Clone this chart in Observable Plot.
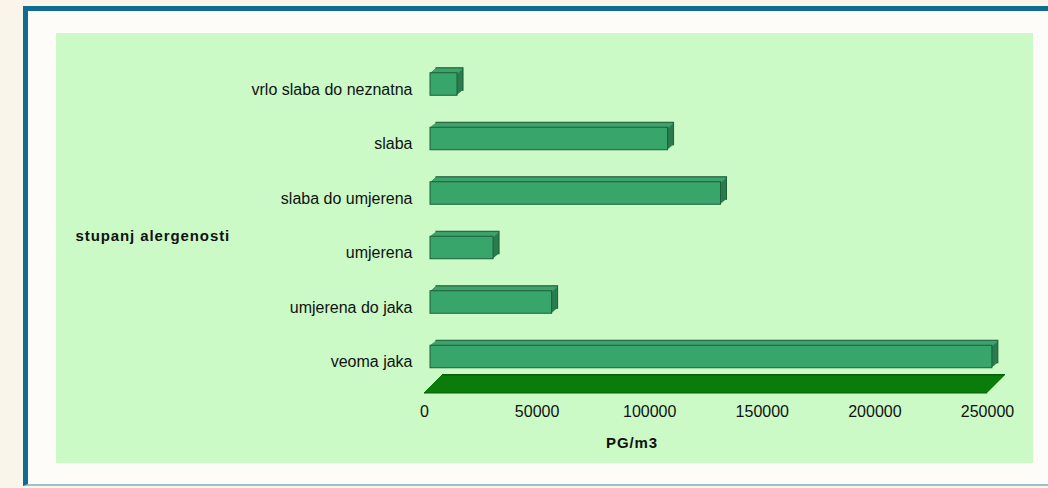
<!DOCTYPE html>
<html>
<head>
<meta charset="utf-8">
<script src="https://cdn.jsdelivr.net/npm/d3@7"></script>
<script src="https://cdn.jsdelivr.net/npm/@observablehq/plot@0.6"></script>
<style>
  html, body { margin: 0; padding: 0; }
  body { width: 1048px; height: 488px; background: #faf5ea; position: relative; overflow: hidden;
         font-family: "Liberation Sans", Arial, sans-serif; }
  #frame { position: absolute; left: 23px; top: 6px; width: 1100px; height: 480px;
           background: #fefcf9; border-left: 5px solid #0f6b90; border-top: 5px solid #0f6b90;
           border-bottom: 2px solid #9dc0cf; box-sizing: border-box; }
  #chart { position: absolute; left: 56px; top: 33px; }
</style>
</head>
<body>
<div id="frame"></div>
<div id="chart"></div>
<script>
const categories = ["vrlo slaba do neznatna", "slaba", "slaba do umjerena", "umjerena", "umjerena do jaka", "veoma jaka"];
const values = [12000, 105500, 129000, 28000, 54000, 249500];
const xTicks = [0, 50000, 100000, 150000, 200000, 250000];
const xTitle = "PG/m3";
const yTitle = "stupanj alergenosti";

const rows = categories.map((c, i) => ({cat: c, value: values[i], i}));

const FRONT = "#38a56b", TOP = "#3fa36b", SIDE = "#2b7c4e", EDGE = "#1d5e3a";
const FLOOR = "#0a7d0a", FLOOR_EDGE = "#065f06";
const FONT = "Liberation Sans, Arial, sans-serif";
const shiftX = 6, depthX = 6, depthY = 5, steps = 6;
const inset = 16;

const marks = [];

// floor (a slanted slab under the bars)
for (let j = 0; j <= 18; j++) {
  marks.push(Plot.ruleY([categories.length], {
    y: d => d, x1: () => 0, x2: () => xTicks[xTicks.length - 1],
    dx: j, dy: 8.5 - j,
    stroke: (j === 0 || j === 18) ? FLOOR_EDGE : FLOOR, strokeWidth: 1.6
  }));
}

// bars: side extrusion
for (let k = steps; k >= 1; k--) {
  marks.push(Plot.rect(rows, {
    x1: () => 0, x2: "value", y1: "i", y2: d => d.i + 1,
    insetTop: inset, insetBottom: inset,
    dx: shiftX + k * depthX / steps, dy: -k * depthY / steps,
    fill: SIDE,
    stroke: k === steps ? EDGE : "none", strokeWidth: 1
  }));
}
// bars: top face
for (let k = steps - 1; k >= 1; k--) {
  marks.push(Plot.rect(rows, {
    x1: () => 0, x2: "value", y1: "i", y2: d => d.i + 1,
    insetTop: inset, insetBottom: 54.5 - inset - 1.5,
    dx: shiftX + k * depthX / steps, dy: -k * depthY / steps,
    fill: TOP
  }));
}
// bars: front face
marks.push(Plot.rect(rows, {
  x1: () => 0, x2: "value", y1: "i", y2: d => d.i + 1,
  insetTop: inset, insetBottom: inset, dx: shiftX,
  fill: FRONT, stroke: EDGE, strokeWidth: 1
}));

// category labels
marks.push(Plot.text(rows, {
  frameAnchor: "left", y: d => d.i + 0.5, text: "cat",
  textAnchor: "end", dx: -12, dy: 5, fontSize: 16, fill: "#111"
}));
// x tick labels
marks.push(Plot.text(xTicks, {
  x: d => d, frameAnchor: "bottom", text: d => String(d),
  dy: 33, fontSize: 16, fill: "#111"
}));
// axis titles
marks.push(Plot.text([xTitle], {
  frameAnchor: "bottom", text: d => d, dx: -74, dy: 64,
  fontSize: 15, fontWeight: "bold", fill: "#111"
}));
marks.push(Plot.text([yTitle], {
  frameAnchor: "left", text: d => d, textAnchor: "start", dx: -349, dy: 15,
  fontSize: 15, fontWeight: "bold", fill: "#111"
}));

const chart = Plot.plot({
  width: 977, height: 430,
  marginLeft: 368, marginRight: 46, marginTop: 23.75, marginBottom: 79.25,
  style: {background: "#cbfac6", fontFamily: FONT, overflow: "visible"},
  x: {domain: [0, xTicks[xTicks.length - 1]], axis: null},
  y: {domain: [0, categories.length], reverse: true, axis: null},
  marks
});
chart.querySelectorAll("text").forEach(t => {
  if (t.textContent === yTitle || t.textContent === xTitle) t.setAttribute("letter-spacing", "0.9");
});
document.getElementById("chart").appendChild(chart);
</script>
</body>
</html>
